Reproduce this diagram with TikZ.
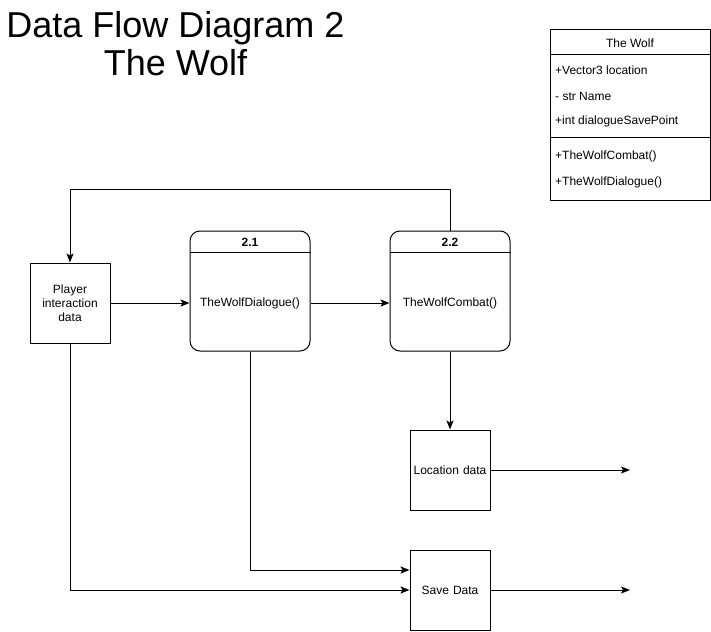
\documentclass[tikz,border=0pt]{standalone}
\usepackage{fontspec}
\setmainfont{Liberation Sans}
\usetikzlibrary{arrows.meta,calc}
\tikzset{
  every node/.style={font=\fontsize{12}{14}\selectfont},
  box/.style={draw,line width=1pt,minimum width=80pt,minimum height=80pt,inner sep=2pt,align=center,text width=76pt},
  proc/.style={draw,line width=1pt,rounded corners=10pt,minimum width=120pt,minimum height=120pt},
  arr/.style={line width=1pt,-{Stealth[length=9pt,width=7pt,inset=2pt]}},
  ln/.style={line width=1pt},
  titletext/.style={font=\fontsize{36}{40}\selectfont,anchor=base,inner sep=0pt},
  rowtext/.style={anchor=west,inner sep=0pt}
}
\begin{document}
\begin{tikzpicture}[x=1pt,y=-1pt]
\useasboundingbox (0,0) rectangle (711,631);
% title
\node[titletext] (t1) at (175.5,38) {Data Flow Diagram 2};
\node[titletext] (t2) at (175.5,76) {The Wolf};
% class box
\node[draw,line width=1pt,minimum width=160pt,minimum height=170pt,inner sep=0pt] (cls) at (630,115) {};
\draw[ln] ([yshift=-25pt]cls.north west) -- ([yshift=-25pt]cls.north east);
\draw[ln] ([yshift=-108pt]cls.north west) -- ([yshift=-108pt]cls.north east);
\node (clsname) at (630,43) {The Wolf};
\node[rowtext] (r1) at (555,70) {+Vector3 location};
\node[rowtext] (r2) at (555,96) {- str Name};
\node[rowtext] (r3) at (555,121) {+int dialogueSavePoint};
\node[rowtext] (r4) at (555,156) {+TheWolfCombat()};
\node[rowtext] (r5) at (555,182) {+TheWolfDialogue()};
% entities
\node[box] (player) at (70,303) {Player\\interaction\\data};
\node[box] (loc) at (450,470) {Location data};
\node[box] (save) at (450,590) {Save Data};
% processes
\node[proc] (p21) at (250,291) {};
\draw[ln] ([yshift=-22pt]p21.north west) -- ([yshift=-22pt]p21.north east);
\node[font=\bfseries\fontsize{12}{14}\selectfont] (h21) at (250,242) {2.1};
\node (b21) at (250,303) {TheWolfDialogue()};
\node[proc] (p22) at (450,291) {};
\draw[ln] ([yshift=-22pt]p22.north west) -- ([yshift=-22pt]p22.north east);
\node[font=\bfseries\fontsize{12}{14}\selectfont] (h22) at (450,242) {2.2};
\node (b22) at (450,303) {TheWolfCombat()};
% free ends
\coordinate (o1) at (630,470);
\coordinate (o2) at (630,590);
% connectors
\draw[arr] (p22.north) -- ++(0,-41) -| (player.north);
\draw[arr] (player.east) -- (player.east -| p21.west);
\draw[arr] (player.east -| p21.east) -- (player.east -| p22.west);
\draw[arr] (p22.south) -- (loc.north);
\draw[arr] (loc.east) -- (o1);
\draw[arr] (p21.south) |- ([yshift=20pt]save.west);
\draw[arr] (player.south) |- (save.west);
\draw[arr] (save.east) -- (o2);
\end{tikzpicture}
\end{document}
